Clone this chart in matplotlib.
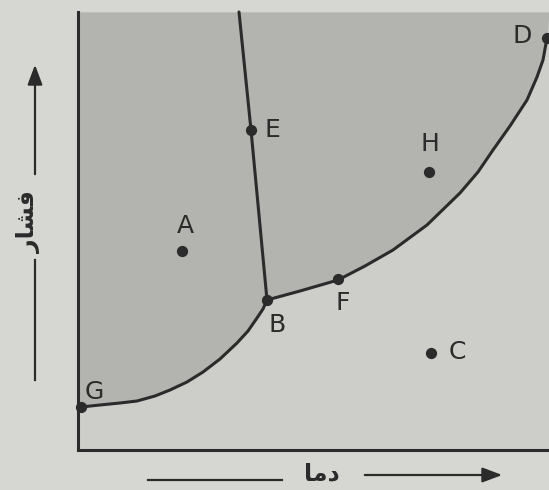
import numpy as np
import matplotlib.pyplot as plt

# phase boundary curves (temperature, pressure) in arbitrary units
subl_t = [3, 22, 42, 59, 77, 92, 109, 125, 142, 159, 170, 179, 185, 189]
subl_p = [43, 45, 47, 49, 54, 60, 68, 78, 91, 107, 119, 132, 141, 150]
vap_t = [189, 222, 260, 287, 315, 349, 382, 400, 415, 432, 449, 459, 465, 469]
vap_p = [150, 159, 170, 184, 200, 225, 257, 278, 300, 324, 350, 373, 390, 412]
fus_t = [189, 173, 161]
fus_p = [150, 320, 438]

# labelled points
pt_names = ['G', 'B', 'F', 'D', 'E', 'A', 'H', 'C']
pt_t = [3, 189, 260, 469, 173, 104, 351, 353]
pt_p = [43, 150, 171, 412, 320, 199, 278, 97]
lbl_t = [16, 199, 265, 444, 194, 107, 352, 379]
lbl_p = [58, 125, 147, 414, 320, 224, 306, 98]

W, H = 549, 490
fig = plt.figure(figsize=(W / 100, H / 100), dpi=100)
fig.patch.set_facecolor('#d6d6d2')
ax = fig.add_axes([78 / W, 40 / H, 471 / W, 438 / H])
ax.set_facecolor('#cdcdc9')
ax.set_xlim(0, 471)
ax.set_ylim(0, 438)

curve_t = subl_t + vap_t[1:]
curve_p = subl_p + vap_p[1:]
ax.fill_between([0] + curve_t + [471], [43] + curve_p + [438], 438,
                color='#b3b3af', lw=0, zorder=1)

lc = '#2b2b2b'
for xs, ys in [(subl_t, subl_p), (vap_t, vap_p), (fus_t, fus_p)]:
    ax.plot(xs, ys, color=lc, lw=2.2, zorder=3, solid_capstyle='round',
            solid_joinstyle='round', clip_on=False)

ax.scatter(pt_t, pt_p, s=50, color=lc, zorder=4, clip_on=False)
for name, x, y in zip(pt_names, lbl_t, lbl_p):
    ax.text(x, y, name, fontsize=18, color='#2b2b2b', ha='center', va='center',
            family='DejaVu Sans', zorder=5)

for side in ['top', 'right']:
    ax.spines[side].set_visible(False)
for side in ['left', 'bottom']:
    ax.spines[side].set_linewidth(2.2)
    ax.spines[side].set_color(lc)
ax.set_xticks([])
ax.set_yticks([])

# axis captions with arrows (figure pixel coords)
def fx(px):
    return px / W

def fy(py):
    return 1 - py / H

fig.add_artist(plt.Line2D([fx(148), fx(282)], [fy(480), fy(480)], color=lc, lw=1.6))
fig.text(fx(322), fy(473), '\uFE8E\uFEE3\uFEA9', fontsize=17, color=lc,
         ha='center', va='center', family='DejaVu Sans', weight='bold')
ax.annotate('', xy=(fx(505), fy(475)), xytext=(fx(362), fy(475)),
            xycoords='figure fraction', textcoords='figure fraction',
            arrowprops=dict(arrowstyle='-|>,head_length=1.2,head_width=0.45',
                            color=lc, lw=1.6))

fig.add_artist(plt.Line2D([fx(35), fx(35)], [fy(380), fy(260)], color=lc, lw=1.6))
fig.text(fx(29), fy(222), '\uFEAD\uFE8E\uFEB8\uFED3', fontsize=17, color=lc,
         ha='center', va='center', rotation=90, family='DejaVu Sans', weight='bold')
ax.annotate('', xy=(fx(35), fy(62)), xytext=(fx(35), fy(177)),
            xycoords='figure fraction', textcoords='figure fraction',
            arrowprops=dict(arrowstyle='-|>,head_length=1.2,head_width=0.45',
                            color=lc, lw=1.6))

fig.savefig('out.png', dpi=100, facecolor=fig.get_facecolor())
